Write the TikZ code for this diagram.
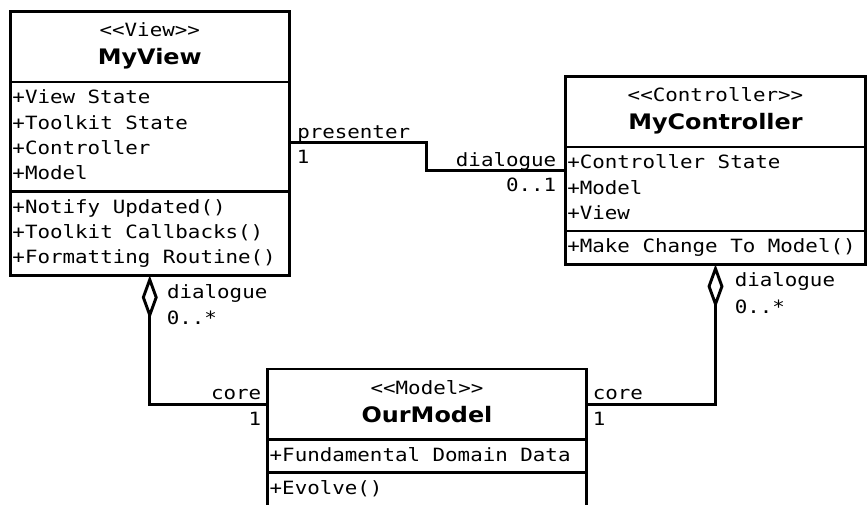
\documentclass[tikz,border=0pt]{standalone}
\usepackage{fontspec}
\newfontfamily\umlmono[FakeStretch=1.14]{DejaVu Sans Mono}
\newfontfamily\umlsans[FakeStretch=1.12]{DejaVu Sans}
\newcommand{\umltext}{\umlmono\fontsize{13.7pt}{19pt}\selectfont}
\newcommand{\umlname}[1]{{\umlsans\bfseries\fontsize{16pt}{19pt}\selectfont #1}}
\newcommand{\stereo}[1]{<\kern0pt<#1>\kern0pt>}
\usetikzlibrary{positioning,arrows.meta}

\tikzset{
  classhead/.style={draw, line width=2.2pt, outer sep=0pt, inner xsep=1.5pt, inner ysep=3pt,
    align=center, font=\umltext, text width=#1,
    execute at begin node={\rule{0pt}{16pt}}, execute at end node={\rule[-9.8pt]{0pt}{9.8pt}}},
  classpart/.style={draw, line width=2.2pt, outer sep=0pt, inner xsep=1.5pt, inner ysep=3pt,
    align=left, font=\umltext, text width=#1,
    execute at begin node={\spaceskip=9.4pt\relax\strut}, execute at end node=\strut},
  role/.style={font=\umltext, inner sep=0pt},
  assoc/.style={line width=2.2pt},
  aggr/.style={line width=2.2pt, -{Diamond[open,length=33pt,width=12pt]}},
}

\begin{document}
\begin{tikzpicture}[x=0.75pt, y=-0.75pt]

\path[use as bounding box, fill=white] (0,0) rectangle (868,505);

% view class
\node[classhead=205.9pt, anchor=north west] (view) at (10.5,11.5) {\stereo{View}\\[2.1pt]\umlname{MyView}};
\node[classpart=205.9pt, below=0pt of view] (view-attr) {+View State\\+Toolkit State\\+Controller\\+Model};
\node[classpart=205.9pt, below=0pt of view-attr] (view-ops) {+Notify Updated()\\+Toolkit Callbacks()\\+Formatting Routine()};

% controller class
\node[classhead=222.3pt, anchor=north west] (ctrl) at (565.3,76.5) {\stereo{Controller}\\[2.1pt]\umlname{MyController}};
\node[classpart=222.3pt, below=0pt of ctrl] (ctrl-attr) {+Controller State\\+Model\\+View};
\node[classpart=222.3pt, below=0pt of ctrl-attr] (ctrl-ops) {+Make Change To Model()};

% model class
\node[classhead=236pt, anchor=north west] (model) at (267.7,369) {\stereo{Model}\\[2.1pt]\umlname{OurModel}};
\node[classpart=236pt, below=0pt of model] (model-attr) {+Fundamental Domain Data};
\node[classpart=236pt, below=0pt of model-attr] (model-ops) {+Evolve()};

% presenter link
\coordinate (bend-top) at (426.7,142.3);
\coordinate (bend-bot) at (426.7,170.2);
\draw[assoc] (view-attr.east |- bend-top) -- (bend-top) -- (bend-bot) -- (ctrl-attr.west |- bend-bot);

% aggregations
\draw[aggr] (model.west) -| (view-ops.south);
\draw[aggr] (model.east) -| (ctrl-ops.south);

% roles
\node[role, anchor=base west] (pres-name) at (297,138.3) {presenter};
\node[role, anchor=base west] (pres-mult) at (296.5,163.3) {1};
\node[role, anchor=base east] (dlg-name) at (556.5,166.5) {dialogue};
\node[role, anchor=base east] (dlg-mult) at (556.5,191.7) {0..1};

\node[role, anchor=base west] (vdlg-name) at (166.8,298.3) {dialogue};
\node[role, anchor=base west] (vdlg-mult) at (166.5,325) {0..*};
\node[role, anchor=base east] (vcore-name) at (261.5,399.3) {core};
\node[role, anchor=base east] (vcore-mult) at (261.5,425.7) {1};

\node[role, anchor=base west] (cdlg-name) at (734.5,286.7) {dialogue};
\node[role, anchor=base west] (cdlg-mult) at (734.5,313.3) {0..*};
\node[role, anchor=base west] (ccore-name) at (592.5,399.3) {core};
\node[role, anchor=base west] (ccore-mult) at (592.5,425.7) {1};

\end{tikzpicture}
\end{document}
